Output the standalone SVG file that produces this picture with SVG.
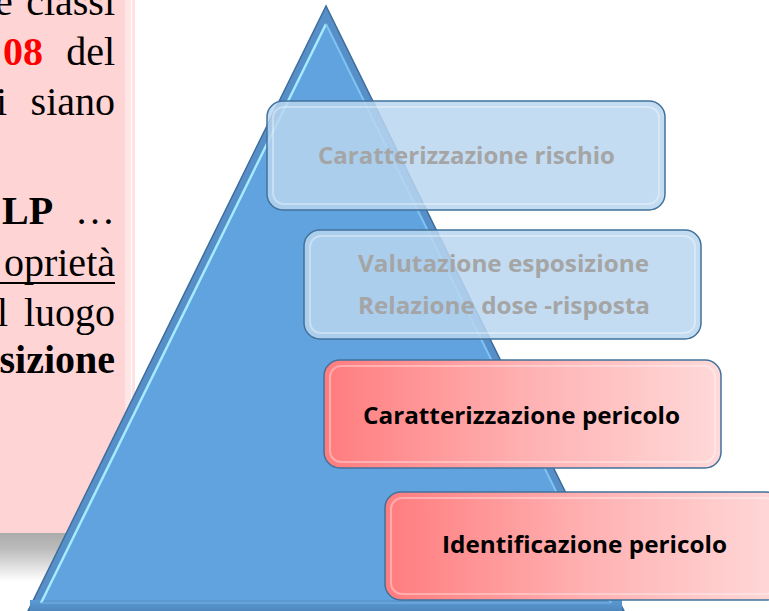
<svg xmlns="http://www.w3.org/2000/svg" width="769" height="611" viewBox="0 0 769 611">
<defs>
<linearGradient id="shadowG" x1="0" y1="0" x2="0" y2="1">
<stop offset="0" stop-color="#ABABAB"/>
<stop offset="0.35" stop-color="#BDBDBD"/>
<stop offset="1" stop-color="#FFFFFF"/>
</linearGradient>
<linearGradient id="redG" x1="0" y1="0" x2="1" y2="0">
<stop offset="0" stop-color="#FF7C7E"/>
<stop offset="0.5" stop-color="#FFB0B1"/>
<stop offset="1" stop-color="#FFD9D9"/>
</linearGradient>
<linearGradient id="baseG" x1="0" y1="0" x2="0" y2="1">
<stop offset="0" stop-color="#5B9AD4"/>
<stop offset="1" stop-color="#4F88BE"/>
</linearGradient>
<style>
.ser{font-family:"Liberation Serif","Times New Roman",serif;font-size:40px;fill:#000}
.b{font-weight:bold}
.lbl{font-family:"Open Sans","Noto Sans","Liberation Sans",sans-serif;font-size:23px;font-weight:bold;text-anchor:middle}
.gray{fill:#A5A5A5}
.blk{fill:#000}
.boxB{fill:#B9D6F0;fill-opacity:0.85;stroke:#41719C;stroke-width:1.5}
.boxR{fill:url(#redG);stroke:#41719C;stroke-width:1.5}
.rim{fill:none;stroke:#FFFFFF;stroke-opacity:0.35;stroke-width:2}
</style>
</defs>

<g id="panel">
<rect x="0" y="0" width="125" height="533" fill="#FFD4D4"/>
<rect x="125" y="0" width="6" height="533" fill="#FFE6E6"/>
<rect x="132" y="0" width="3" height="533" fill="#FFE2E2"/>
<rect x="0" y="533" width="320" height="48" fill="url(#shadowG)"/>
<text class="ser" x="-5" y="15">e</text>
<text class="ser" x="115" y="15" text-anchor="end">classi</text>
<text class="ser b" x="3" y="65" style="fill:#FF0000">08</text>
<text class="ser" x="115" y="65" text-anchor="end">del</text>
<text class="ser" x="-4" y="115">i</text>
<text class="ser" x="115" y="115" text-anchor="end">siano</text>
<text class="ser b" x="2" y="224">LP</text>
<text class="ser" x="115" y="224" text-anchor="end">…</text>
<text class="ser" x="115" y="276" text-anchor="end">oprietà</text>
<rect x="0" y="282" width="115" height="2" fill="#000"/>
<text class="ser" x="-3" y="326">l</text>
<text class="ser" x="115" y="326" text-anchor="end">luogo</text>
<text class="ser b" x="115" y="373" text-anchor="end">sizione</text>
</g>

<g id="pyramid">
<polygon points="326,6 28,611 624,611" fill="#5790C8" stroke="#3E6D9C" stroke-width="1.5"/>
<polygon points="326,24 41,603 611,603" fill="#61A3DE"/>
<rect x="30" y="600" width="592" height="11" fill="url(#baseG)"/>
<line x1="326" y1="24" x2="41" y2="603" stroke="#A6EBFF" stroke-width="2.5"/>
<line x1="326" y1="24" x2="611" y2="603" stroke="#7FC3F2" stroke-width="2"/>
<line x1="41" y1="603" x2="611" y2="603" stroke="#6FA9DC" stroke-width="1.5"/>
</g>

<g id="box-rischio">
<rect class="boxB" x="267" y="101" width="398" height="109" rx="16"/>
<rect class="rim" x="273" y="107" width="386" height="97" rx="11"/>
<text class="lbl gray" x="466.5" y="164" textLength="297" lengthAdjust="spacingAndGlyphs">Caratterizzazione rischio</text>
</g>

<g id="box-esposizione">
<rect class="boxB" x="304" y="230" width="397" height="109" rx="16"/>
<rect class="rim" x="310" y="236" width="385" height="97" rx="11"/>
<text class="lbl gray" x="503.5" y="272" textLength="291" lengthAdjust="spacingAndGlyphs">Valutazione esposizione</text>
<text class="lbl gray" x="504" y="314" textLength="292" lengthAdjust="spacingAndGlyphs">Relazione dose -risposta</text>
</g>

<g id="box-caratterizzazione-pericolo">
<rect class="boxR" x="324" y="360" width="397" height="108" rx="16"/>
<rect class="rim" x="330" y="366" width="385" height="96" rx="11"/>
<text class="lbl blk" x="521.5" y="424" textLength="317" lengthAdjust="spacingAndGlyphs">Caratterizzazione pericolo</text>
</g>

<g id="box-identificazione-pericolo">
<rect class="boxR" x="385" y="492" width="397" height="108" rx="16"/>
<rect class="rim" x="391" y="498" width="385" height="96" rx="11"/>
<text class="lbl blk" x="584.5" y="553" textLength="285" lengthAdjust="spacingAndGlyphs">Identificazione pericolo</text>
</g>
</svg>
